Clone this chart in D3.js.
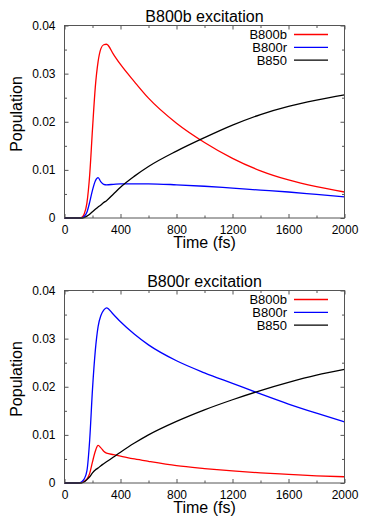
<!DOCTYPE html>
<html>
<head>
<meta charset="utf-8">
<script src="https://cdn.jsdelivr.net/npm/d3@7"></script>
<style>
  body { margin: 0; background: #fff; }
  text { font-family: "Liberation Sans", Arial, Helvetica, sans-serif; fill: #000; }
</style>
</head>
<body>
<div id="canvas"></div>
<script>
"use strict"

let svgWidth = 374
let svgHeight = 530

/* Data (time in fs, population) */
let times = [0, 100, 120, 140, 160, 180, 200, 220, 240, 260, 280, 300, 350, 400, 500, 600, 800, 1000, 1200, 1400, 1600, 1800, 2000]

/* panel 1: B800b excitation */
let b800bExcB800b = [0, 0, 0.0001, 0.0008, 0.0031, 0.0090, 0.0185, 0.0272, 0.0325, 0.0352, 0.0360, 0.0361, 0.0340, 0.0319, 0.0283, 0.0249, 0.0197, 0.0157, 0.0124, 0.0098, 0.0079, 0.0065, 0.0054]
let b800bExcB800r = [0, 0, 0, 0.0003, 0.0012, 0.0033, 0.0058, 0.0077, 0.0084, 0.0075, 0.0070, 0.0069, 0.0070, 0.0071, 0.0071, 0.0071, 0.0069, 0.0066, 0.0062, 0.0058, 0.0054, 0.0049, 0.0044]
let b800bExcB850  = [0, 0, 0, 0.0001, 0.0004, 0.0008, 0.0013, 0.0018, 0.0023, 0.0027, 0.0032, 0.0036, 0.0050, 0.0064, 0.0087, 0.0107, 0.0139, 0.0167, 0.0193, 0.0215, 0.0232, 0.0245, 0.0256]

/* panel 2: B800r excitation */
let b800rExcB800b = [0, 0, 0.0001, 0.0003, 0.0008, 0.0020, 0.0044, 0.0066, 0.0078, 0.0073, 0.0066, 0.0062, 0.0059, 0.0056, 0.0050, 0.0045, 0.0036, 0.0030, 0.0025, 0.0021, 0.0018, 0.0015, 0.0013]
let b800rExcB800r = [0, 0, 0.0002, 0.0008, 0.0025, 0.0090, 0.0195, 0.0275, 0.0325, 0.0348, 0.0359, 0.0364, 0.0350, 0.0335, 0.0309, 0.0287, 0.0254, 0.0229, 0.0207, 0.0185, 0.0164, 0.0145, 0.0127]
let b800rExcB850  = [0, 0, 0, 0.0002, 0.0007, 0.0013, 0.0021, 0.0027, 0.0031, 0.0036, 0.0040, 0.0044, 0.0054, 0.0064, 0.0083, 0.0100, 0.0128, 0.0152, 0.0173, 0.0192, 0.0209, 0.0224, 0.0236]

let seriesNames = ["B800b", "B800r", "B850"]
let seriesColors = ["#ff0000", "#0000ff", "#000000"]

let panelTitles = ["B800b excitation", "B800r excitation"]
let panelSeries = [
    [b800bExcB800b, b800bExcB800r, b800bExcB850],
    [b800rExcB800b, b800rExcB800r, b800rExcB850]
]

let xMajorTicks = [0, 400, 800, 1200, 1600, 2000]
let xMinorTicks = [200, 600, 1000, 1400, 1800]
let yMajorTicks = [0, 0.01, 0.02, 0.03, 0.04]
let yMinorTicks = [0.005, 0.015, 0.025, 0.035]

/* layout */
let plotLeft = 64.5
let plotRight = 344.5
let plotTop = 25.5
let plotBottom = 218
let panelStep = 265

let svg = d3.select("#canvas")
    .append("svg")
    .attr("width", svgWidth)
    .attr("height", svgHeight)

let xScale = d3.scaleLinear()
    .domain([0, 2000])
    .range([plotLeft, plotRight])

let yScale = d3.scaleLinear()
    .domain([0, 0.04])
    .range([plotBottom, plotTop])

let xFormat = d3.format("d")
let yFormat = d => d === 0 ? "0" : d.toFixed(2)

function drawPanel(p) {
    let g = svg.append("g")
        .attr("transform", "translate(0," + (p * panelStep) + ")")

    /* ticks, all pointing inwards, mirrored on top and right */
    let bottom = g.append("g").attr("transform", "translate(0," + plotBottom + ")")
    bottom.call(d3.axisBottom(xScale).tickValues(xMajorTicks).tickSize(-4).tickPadding(7).tickFormat(xFormat))
    bottom.append("g").call(d3.axisBottom(xScale).tickValues(xMinorTicks).tickSize(-2.5).tickFormat(""))

    let top = g.append("g").attr("transform", "translate(0," + plotTop + ")")
    top.call(d3.axisTop(xScale).tickValues(xMajorTicks).tickSize(-4).tickFormat(""))
    top.append("g").call(d3.axisTop(xScale).tickValues(xMinorTicks).tickSize(-2.5).tickFormat(""))

    let left = g.append("g").attr("transform", "translate(" + plotLeft + ",0)")
    left.call(d3.axisLeft(yScale).tickValues(yMajorTicks).tickSize(-4).tickPadding(9).tickFormat(yFormat))
    left.append("g").call(d3.axisLeft(yScale).tickValues(yMinorTicks).tickSize(-2.5).tickFormat(""))

    let right = g.append("g").attr("transform", "translate(" + plotRight + ",0)")
    right.call(d3.axisRight(yScale).tickValues(yMajorTicks).tickSize(-4).tickFormat(""))
    right.append("g").call(d3.axisRight(yScale).tickValues(yMinorTicks).tickSize(-2.5).tickFormat(""))

    g.selectAll(".domain").remove()
    g.selectAll(".tick line").attr("stroke", "#555")
    g.selectAll(".tick text")
        .attr("font-size", "12px")
        .attr("font-family", "'Liberation Sans', Arial, Helvetica, sans-serif")
        .attr("fill", "#000")

    /* curves */
    let line = d3.line()
        .x((d, i) => xScale(times[i]))
        .y(d => yScale(d))
        .curve(d3.curveMonotoneX)

    panelSeries[p].forEach((values, k) => {
        g.append("path")
            .attr("d", line(values))
            .attr("fill", "none")
            .attr("stroke", seriesColors[k])
            .attr("stroke-width", 1.3)
    })

    /* frame */
    g.append("rect")
        .attr("x", plotLeft)
        .attr("y", plotTop)
        .attr("width", plotRight - plotLeft)
        .attr("height", plotBottom - plotTop)
        .attr("fill", "none")
        .attr("stroke", "#555")
        .attr("stroke-width", 1)

    /* legend */
    seriesNames.forEach((name, k) => {
        let ly = 34.5 + k * 12.8
        g.append("text")
            .attr("x", 287)
            .attr("y", ly)
            .attr("dy", "0.35em")
            .attr("text-anchor", "end")
            .attr("font-size", "13px")
            .text(name)
        g.append("line")
            .attr("x1", 294)
            .attr("x2", 328)
            .attr("y1", ly)
            .attr("y2", ly)
            .attr("stroke", seriesColors[k])
            .attr("stroke-width", 1.3)
    })

    /* title and axis labels */
    g.append("text")
        .attr("x", (plotLeft + plotRight) / 2)
        .attr("y", 21.5)
        .attr("text-anchor", "middle")
        .attr("font-size", "16px")
        .text(panelTitles[p])

    g.append("text")
        .attr("x", (plotLeft + plotRight) / 2)
        .attr("y", 247.5)
        .attr("text-anchor", "middle")
        .attr("font-size", "16px")
        .text("Time (fs)")

    g.append("text")
        .attr("transform", "translate(21.5,114) rotate(-90)")
        .attr("text-anchor", "middle")
        .attr("font-size", "16px")
        .text("Population")
}

drawPanel(0)
drawPanel(1)
</script>
</body>
</html>
